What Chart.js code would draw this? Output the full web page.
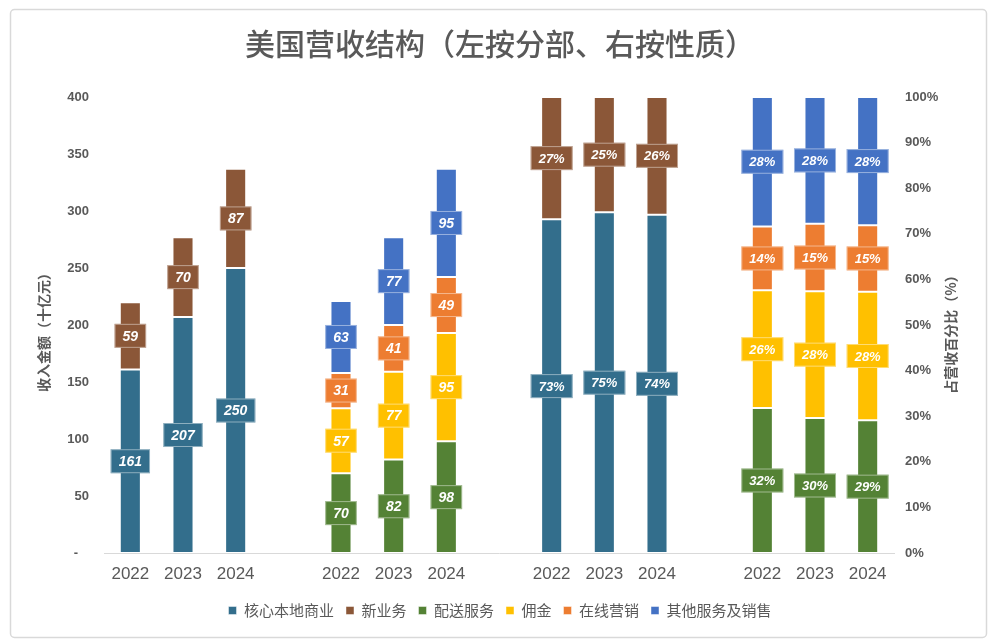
<!DOCTYPE html>
<html>
<head>
<meta charset="utf-8">
<script src="https://cdn.jsdelivr.net/npm/chart.js@4/dist/chart.umd.min.js"></script>
<style>
  html, body { margin: 0; padding: 0; background: #ffffff; }
  #wrap { width: 1000px; height: 642px; }
</style>
</head>
<body>
<div id="wrap"><canvas id="c" width="1000" height="642"></canvas></div>
<script>
// ---- Data ----
const categories = ['2022', '2023', '2024', '', '2022', '2023', '2024', '', '2022', '2023', '2024', '', '2022', '2023', '2024'];
const titleText = '美国营收结构（左按分部、右按性质）';
const leftAxisTitle = '收入金额（十亿元）';
const rightAxisTitle = '占营收百分比（%）';

// Left: revenue by segment (billion RMB)
const coreLocal = [161, 207, 250];
const newBiz = [59, 70, 87];
// Left: revenue by nature (billion RMB)
const delivery = [70, 82, 98];
const commission = [57, 77, 95];
const onlineMkt = [31, 41, 49];
const otherSvc = [63, 77, 95];
// Right: share of revenue (%)
const coreShare = [73.2, 74.7, 74.2];
const newShare = [26.8, 25.3, 25.8];
const deliveryShare = [31.8, 29.6, 29.1];
const commissionShare = [25.8, 27.8, 28.2];
const onlineShare = [14.0, 14.8, 14.6];
const otherShare = [28.4, 27.8, 28.1];

const seriesNames = ['核心本地商业', '新业务', '配送服务', '佣金', '在线营销', '其他服务及销售'];
const seriesColors = ['#336E8C', '#8B5738', '#548235', '#FFC000', '#ED7D31', '#4472C4'];

const leftTicks = [0, 50, 100, 150, 200, 250, 300, 350, 400];

// ---- Helpers ----
function place(values, start) {
  const a = new Array(categories.length).fill(null);
  values.forEach((v, i) => { a[start + i] = v; });
  return a;
}
const FONT = "'Liberation Sans', 'Noto Sans CJK SC', sans-serif";
const CJK = "'Noto Sans CJK SC', 'Liberation Sans', sans-serif";
const GREY = '#595959';

function ds(idx, values, start, axis, legend) {
  return {
    label: seriesNames[idx],
    data: place(values, start),
    backgroundColor: seriesColors[idx],
    borderColor: 'rgba(255,255,255,0.45)',
    borderWidth: 1,
    borderSkipped: false,
    yAxisID: axis,
    showInLegend: legend,
    isPercent: axis === 'y1'
  };
}

const datasets = [
  ds(0, coreLocal, 0, 'y', true),
  ds(1, newBiz, 0, 'y', true),
  ds(2, delivery, 4, 'y', true),
  ds(3, commission, 4, 'y', true),
  ds(4, onlineMkt, 4, 'y', true),
  ds(5, otherSvc, 4, 'y', true),
  ds(0, coreShare, 8, 'y1', false),
  ds(1, newShare, 8, 'y1', false),
  ds(2, deliveryShare, 12, 'y1', false),
  ds(3, commissionShare, 12, 'y1', false),
  ds(4, onlineShare, 12, 'y1', false),
  ds(5, otherShare, 12, 'y1', false)
];

// ---- Plugins ----
const frame = {
  id: 'frame',
  beforeDraw(chart) {
    const ctx = chart.ctx;
    ctx.save();
    ctx.fillStyle = '#ffffff';
    ctx.fillRect(0, 0, chart.width, chart.height);
    ctx.strokeStyle = '#D9D9D9';
    ctx.lineWidth = 1.5;
    ctx.beginPath();
    if (ctx.roundRect) ctx.roundRect(10.5, 9.5, 976, 628, 4); else ctx.rect(10.5, 9.5, 976, 628);
    ctx.stroke();
    ctx.restore();
  }
};

const axisTitles = {
  id: 'axisTitles',
  afterDraw(chart) {
    const ctx = chart.ctx;
    const ca = chart.chartArea;
    const cy = (ca.top + ca.bottom) / 2 + 4;
    ctx.save();
    ctx.fillStyle = GREY;
    ctx.font = 'bold 14px ' + CJK;
    ctx.textAlign = 'center';
    ctx.textBaseline = 'middle';
    ctx.translate(44, cy);
    ctx.rotate(-Math.PI / 2);
    ctx.fillText(leftAxisTitle, 0, 0);
    ctx.restore();
    ctx.save();
    ctx.fillStyle = GREY;
    ctx.font = 'bold 14px ' + CJK;
    ctx.textAlign = 'center';
    ctx.textBaseline = 'middle';
    ctx.translate(951, cy + 2);
    ctx.rotate(-Math.PI / 2);
    ctx.fillText(rightAxisTitle, 0, 0);
    ctx.restore();
  }
};

const boxLabels = {
  id: 'boxLabels',
  afterDatasetsDraw(chart) {
    const ctx = chart.ctx;
    chart.data.datasets.forEach((d, di) => {
      const meta = chart.getDatasetMeta(di);
      if (meta.hidden) return;
      meta.data.forEach((el, i) => {
        const v = d.data[i];
        if (v === null || v === undefined) return;
        const p = el.getProps(['x', 'y', 'base'], true);
        const cx = p.x;
        const cy = (p.y + p.base) / 2;
        const text = d.isPercent ? Math.round(v) + '%' : String(v);
        ctx.save();
        ctx.font = d.isPercent
          ? "italic bold 13px 'Liberation Sans Narrow', 'Liberation Sans', sans-serif"
          : 'italic bold 14px ' + FONT;
        const tw = ctx.measureText(text).width;
        const w = Math.max(tw + 16, 30);
        const h = 24;
        ctx.fillStyle = d.backgroundColor;
        ctx.fillRect(cx - w / 2, cy - h / 2, w, h);
        ctx.strokeStyle = 'rgba(255,255,255,0.45)';
        ctx.lineWidth = 1;
        ctx.strokeRect(cx - w / 2 + 0.5, cy - h / 2 + 0.5, w - 1, h - 1);
        ctx.fillStyle = '#ffffff';
        ctx.textAlign = 'center';
        ctx.textBaseline = 'middle';
        ctx.fillText(text, cx, cy + 1);
        ctx.restore();
      });
    });
  }
};

// ---- Chart ----
new Chart(document.getElementById('c'), {
  type: 'bar',
  data: { labels: categories, datasets: datasets },
  options: {
    responsive: false,
    animation: false,
    devicePixelRatio: 1,
    layout: { padding: { left: 0, right: 0, top: 8, bottom: 14 } },
    datasets: { bar: { barPercentage: 0.4, categoryPercentage: 1 } },
    scales: {
      x: {
        stacked: true,
        grid: { display: false, drawTicks: false },
        border: { display: true, color: '#D9D9D9', width: 1 },
        ticks: { color: GREY, font: { family: FONT, size: 17 }, padding: 11, autoSkip: false, maxRotation: 0 },
        afterFit(s) { s.height = 38; }
      },
      y: {
        stacked: true,
        position: 'left',
        min: 0, max: 400,
        afterBuildTicks(s) { s.ticks = leftTicks.map(v => ({ value: v })); },
        grid: { display: false, drawTicks: false },
        border: { display: false },
        ticks: {
          color: GREY, padding: 15,
          font: { family: FONT, size: 13, weight: 'bold' },
          callback: v => (v === 0 ? '-   ' : String(v))
        },
        afterFit(s) { s.width = 104; }
      },
      y1: {
        stacked: true,
        position: 'right',
        min: 0, max: 100,
        grid: { display: false, drawTicks: false },
        border: { display: false },
        ticks: {
          stepSize: 10, color: GREY, padding: 11,
          font: { family: "'Liberation Sans Narrow', 'Liberation Sans', sans-serif", size: 13, weight: 'bold' },
          callback: v => v + '%'
        },
        afterFit(s) { s.width = 106; }
      }
    },
    plugins: {
      title: {
        display: true,
        text: titleText,
        color: GREY,
        font: { family: CJK, size: 30, weight: '500' },
        padding: { top: 18, bottom: 35 }
      },
      legend: {
        position: 'bottom',
        labels: {
          color: GREY,
          font: { family: CJK, size: 15 },
          boxWidth: 8, boxHeight: 8,
          padding: 12,
          filter: (item, data) => data.datasets[item.datasetIndex].showInLegend
        }
      },
      tooltip: { enabled: false }
    }
  },
  plugins: [frame, boxLabels, axisTitles]
});
</script>
</body>
</html>
